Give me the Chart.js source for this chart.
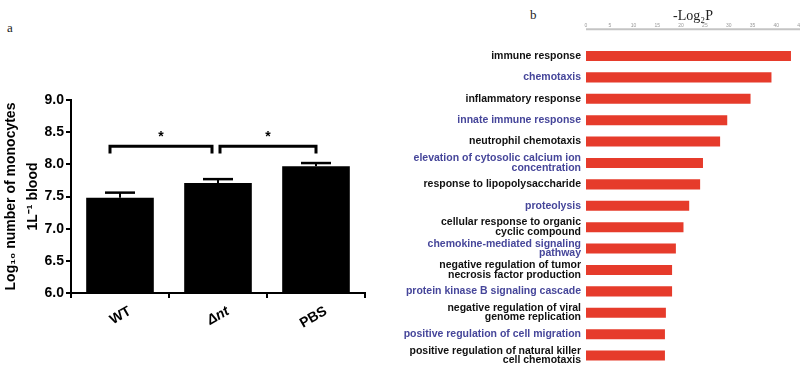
<!DOCTYPE html>
<html>
<head>
<meta charset="utf-8">
<script src="https://cdn.jsdelivr.net/npm/chart.js@4/dist/chart.umd.min.js"></script>
<style>
  html, body { margin: 0; padding: 0; background: #fff; }
  body { width: 800px; height: 365px; overflow: hidden; position: relative; }
  #wrapA { position: absolute; left: 0; top: 0; width: 380px; height: 365px; }
  #wrapB { position: absolute; left: 380px; top: 0; width: 440px; height: 368px; }
  .panel { position: absolute; font-family: "Liberation Serif", "DejaVu Serif", serif; font-size: 13px; color: #222; }
</style>
</head>
<body>
<div class="panel" style="left:7px; top:20px;">a</div>
<div class="panel" style="left:530px; top:7px;">b</div>
<div id="wrapA"><canvas id="chartA"></canvas></div>
<div id="wrapB"><canvas id="chartB"></canvas></div>
<script>
// panel a: monocytes
const groups = ['WT', 'Δnt', 'PBS'];
const monocytes = [7.48, 7.71, 7.97];
const monoErr = [0.08, 0.06, 0.05];
const sigPairs = [[0, 1], [1, 2]];
const sigLevel = 8.28;

// panel b: GO terms, -log2 P
const terms = [
  'immune response',
  'chemotaxis',
  'inflammatory response',
  'innate immune response',
  'neutrophil chemotaxis',
  ['elevation of cytosolic calcium ion', 'concentration'],
  'response to lipopolysaccharide',
  'proteolysis',
  ['cellular response to organic', 'cyclic compound'],
  ['chemokine-mediated signaling', 'pathway'],
  ['negative regulation of tumor', 'necrosis factor production'],
  'protein kinase B signaling cascade',
  ['negative regulation of viral', 'genome replication'],
  'positive regulation of cell migration',
  ['positive regulation of natural killer', 'cell chemotaxis']
];
const logP = [43.1, 39.0, 34.6, 29.7, 28.2, 24.6, 24.0, 21.7, 20.5, 18.9, 18.1, 18.1, 16.8, 16.6, 16.6];
const logTicks = [0, 45, 5];

const sans = '"Liberation Sans", Arial, sans-serif';

// error bar caps + significance brackets
const annotA = {
  id: 'annotA',
  afterDatasetsDraw(chart) {
    const { ctx, scales: { x, y } } = chart;
    ctx.save();
    ctx.strokeStyle = '#000';
    ctx.lineCap = 'butt';
    monocytes.forEach((v, i) => {
      const cx = x.getPixelForValue(i);
      const top = y.getPixelForValue(v + monoErr[i]);
      ctx.lineWidth = 2;
      ctx.beginPath();
      ctx.moveTo(cx, y.getPixelForValue(v));
      ctx.lineTo(cx, top);
      ctx.stroke();
      ctx.lineWidth = 2.5;
      ctx.beginPath();
      ctx.moveTo(cx - 15, top);
      ctx.lineTo(cx + 15, top);
      ctx.stroke();
    });
    const by = y.getPixelForValue(sigLevel);
    const dy = y.getPixelForValue(sigLevel - 0.11);
    const offs = [[-10, -6], [2, 0]];
    ctx.lineWidth = 3;
    ctx.lineJoin = 'miter';
    sigPairs.forEach(([a, b], k) => {
      const x1 = x.getPixelForValue(a) + offs[k][0];
      const x2 = x.getPixelForValue(b) + offs[k][1];
      ctx.beginPath();
      ctx.moveTo(x1, dy);
      ctx.lineTo(x1, by);
      ctx.lineTo(x2, by);
      ctx.lineTo(x2, dy);
      ctx.stroke();
      ctx.fillStyle = '#000';
      ctx.font = 'bold 14px ' + sans;
      ctx.textAlign = 'center';
      ctx.textBaseline = 'middle';
      ctx.fillText('*', (x1 + x2) / 2, y.getPixelForValue(sigLevel + 0.15));
    });
    ctx.restore();
  }
};

new Chart(document.getElementById('chartA'), {
  type: 'bar',
  data: {
    labels: groups,
    datasets: [{
      data: monocytes,
      backgroundColor: '#000',
      borderWidth: 0,
      categoryPercentage: 1,
      barPercentage: 0.69
    }]
  },
  options: {
    responsive: true,
    maintainAspectRatio: false,
    animation: false,
    layout: { padding: { top: 100, right: 15, bottom: 32, left: 0 } },
    plugins: { legend: { display: false }, tooltip: { enabled: false } },
    scales: {
      x: {
        afterFit: s => { s.height = 40; },
        grid: { drawOnChartArea: false, drawTicks: true, tickLength: 5, color: '#000', lineWidth: 2 },
        border: { color: '#000', width: 2 },
        ticks: {
          color: '#000',
          minRotation: 30,
          maxRotation: 30,
          labelOffset: 10,
          padding: 5,
          font: c => ({ family: sans, size: 14, weight: 'bold', style: c.index === 1 ? 'italic' : 'normal' })
        }
      },
      y: {
        min: 6,
        max: 9,
        afterFit: s => { s.width = 71; },
        grid: { drawOnChartArea: false, drawTicks: true, tickLength: 5, color: '#000', lineWidth: 2 },
        border: { color: '#000', width: 2 },
        ticks: {
          stepSize: 0.5,
          color: '#000',
          padding: 2,
          font: { family: sans, size: 14, weight: 'bold' },
          callback: v => v.toFixed(1)
        },
        title: {
          display: true,
          text: ['Log₁₀ number of monocytes', '1L⁻¹ blood'],
          color: '#000',
          font: { family: sans, size: 14, weight: 'bold', lineHeight: 1.6 },
          padding: { top: 0, bottom: 0 }
        }
      }
    }
  },
  plugins: [annotA]
});

// top axis line sits a little above the first bar
const AXIS_GAP = 16;
const axisLineB = {
  id: 'axisLineB',
  afterDraw(chart) {
    const { ctx, scales: { x } } = chart;
    const ly = chart.chartArea.top - AXIS_GAP;
    ctx.save();
    ctx.strokeStyle = '#c4c4c4';
    ctx.lineWidth = 2;
    ctx.beginPath();
    ctx.moveTo(x.left, ly);
    ctx.lineTo(x.right + 20, ly);
    ctx.stroke();
    ctx.restore();
  }
};

new Chart(document.getElementById('chartB'), {
  type: 'bar',
  data: {
    labels: terms,
    datasets: [{
      data: logP,
      backgroundColor: '#e63b2b',
      borderWidth: 0,
      categoryPercentage: 1,
      barPercentage: 0.47
    }]
  },
  options: {
    indexAxis: 'y',
    responsive: true,
    maintainAspectRatio: false,
    animation: false,
    layout: { padding: { top: 0, right: 20, bottom: 0, left: 0 } },
    plugins: { legend: { display: false }, tooltip: { enabled: false } },
    scales: {
      x: {
        position: 'top',
        min: logTicks[0],
        max: logTicks[1],
        afterFit: s => { s.height = 45.3; },
        grid: { display: false },
        border: { display: false },
        ticks: {
          stepSize: logTicks[2],
          color: '#999',
          padding: AXIS_GAP - 7,
          maxRotation: 0,
          font: { family: sans, size: 5 }
        },
        title: {
          display: true,
          text: '-Log₂P',
          color: '#222',
          font: { family: '"Liberation Serif", "DejaVu Serif", serif', size: 14 },
          padding: { top: 8, bottom: 0 }
        }
      },
      y: {
        afterFit: s => { s.width = 206; },
        grid: { display: false },
        border: { display: false },
        ticks: {
          autoSkip: false,
          padding: -3,
          color: c => (c.index % 2 ? '#46469a' : '#111'),
          font: { family: sans, size: 10.5, weight: 'bold', lineHeight: 0.9 }
        }
      }
    }
  },
  plugins: [axisLineB]
});
</script>
</body>
</html>
